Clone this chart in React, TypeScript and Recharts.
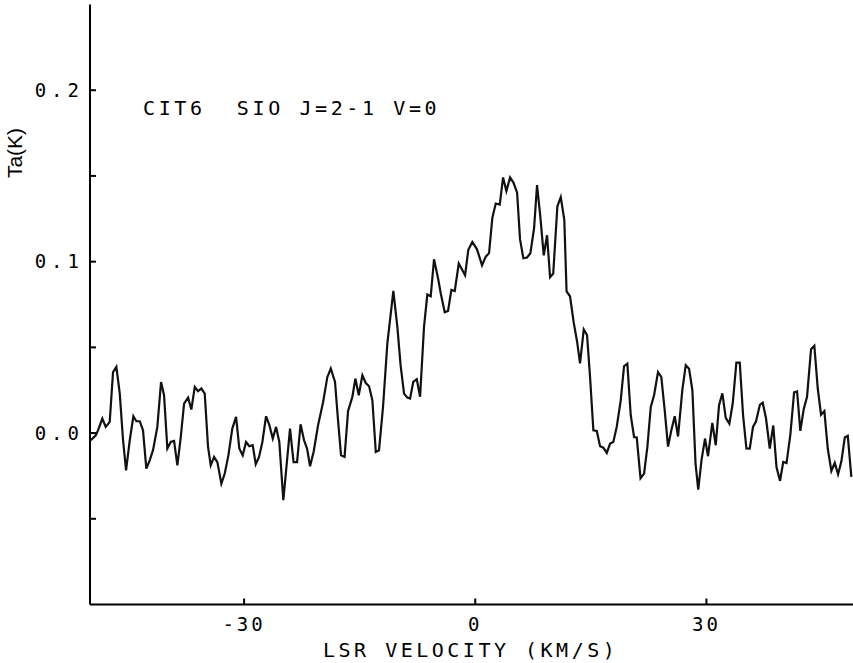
import { LineChart, Line, XAxis, YAxis } from "recharts";

// LSR velocity (km/s) of each vertex of the spectrum trace
const velocity = [
  -49.9, -49.25, -48.96, -48.4, -47.96, -47.44, -47.01, -46.58, -46.14, -45.71,
  -45.32, -44.84, -44.37, -43.98, -43.54, -43.12, -42.69, -42.25, -41.82, -41.26,
  -40.78, -40.39, -39.96, -39.52, -39.09, -38.66, -38.22, -37.79, -37.27, -36.85,
  -36.4, -35.98, -35.55, -35.11, -34.68, -34.33, -33.9, -33.47, -32.95, -32.51,
  -32.04, -31.53, -31.04, -30.62, -30.18, -29.75, -29.32, -28.88, -28.49, -28.06,
  -27.63, -27.15, -26.72, -26.28, -25.85, -25.43, -24.91, -24.04, -23.58, -23.13,
  -22.67, -22.22, -21.83, -21.44, -20.96, -20.4, -19.75, -19.2, -18.75, -18.2,
  -17.81, -17.42, -16.96, -16.51, -15.95, -15.56, -15.12, -14.65, -14.21, -13.78,
  -13.35, -12.91, -12.49, -11.97, -11.41, -10.63, -10.11, -9.69, -9.24, -8.81,
  -8.46, -8.05, -7.59, -7.16, -6.65, -6.22, -5.78, -5.35, -4.83, -4.48,
  -3.96, -3.53, -3.1, -2.66, -2.14, -1.32, -0.9, -0.38, 0.23, 0.88,
  1.36, 1.79, 2.22, 2.66, 3.18, 3.61, 4.04, 4.52, 4.97, 5.43,
  5.81, 6.24, 6.72, 7.15, 7.63, 8.02, 8.44, 8.89, 9.32, 9.71,
  10.12, 10.66, 11.1, 11.56, 11.85, 12.3, 12.78, 13.21, 13.6, 14.08,
  14.51, 14.9, 15.33, 15.77, 16.2, 16.63, 17.07, 17.5, 17.92, 18.36,
  18.88, 19.31, 19.74, 20.18, 20.61, 20.96, 21.45, 21.91, 22.34, 22.78,
  23.21, 23.72, 24.15, 24.59, 25.02, 25.45, 25.89, 26.32, 26.88, 27.32,
  27.75, 28.18, 28.59, 28.94, 29.37, 29.82, 30.21, 30.77, 31.21, 31.64,
  32.07, 32.51, 32.98, 33.42, 33.89, 34.33, 34.76, 35.19, 35.63, 36.05,
  36.44, 36.94, 37.31, 37.74, 38.22, 38.68, 39.1, 39.56, 39.97, 40.4,
  40.9, 41.38, 41.77, 42.19, 42.63, 43.06, 43.58, 44.01, 44.45, 44.88,
  45.31, 45.75, 46.22, 46.66, 47.09, 47.52, 47.96, 48.35, 48.81,
];

// antenna temperature Ta (K) at each vertex
const antennaTemp = [
  -0.0042, -0.0013, 0.0016, 0.0085, 0.0036, 0.0065, 0.0356, 0.0386, 0.0232, -0.0042,
  -0.0217, -0.0042, 0.0098, 0.0069, 0.0069, 0.0016, -0.0207, -0.0159, -0.01, 0.0036,
  0.0298, 0.0221, -0.009, -0.0052, -0.0046, -0.0188, -0.0023, 0.0172, 0.0207, 0.0137,
  0.0269, 0.0244, 0.026, 0.023, -0.0081, -0.0188, -0.0139, -0.0169, -0.0295, -0.0236,
  -0.013, 0.0026, 0.0094, -0.009, -0.013, -0.0052, -0.0077, -0.0071, -0.0182, -0.0139,
  -0.0052, 0.0098, 0.0046, -0.0032, 0.0036, -0.0052, -0.0392, 0.0026, -0.0169, -0.0169,
  0.0051, -0.0042, -0.009, -0.0194, -0.0106, 0.0046, 0.018, 0.0326, 0.0376, 0.0298,
  0.0075, -0.013, -0.0139, 0.0127, 0.0211, 0.0318, 0.0221, 0.0337, 0.0292, 0.0273,
  0.0191, -0.011, -0.01, 0.0152, 0.0522, 0.0829, 0.0619, 0.0396, 0.023, 0.0207,
  0.0201, 0.0298, 0.0314, 0.0212, 0.0619, 0.0808, 0.0798, 0.1014, 0.0903, 0.0816,
  0.0705, 0.0712, 0.0835, 0.0829, 0.0989, 0.0921, 0.1069, 0.1115, 0.1072, 0.0979,
  0.1029, 0.1049, 0.1256, 0.1339, 0.1333, 0.1491, 0.1412, 0.1491, 0.146, 0.1402,
  0.1131, 0.102, 0.1024, 0.1049, 0.1192, 0.1446, 0.1265, 0.1037, 0.1154, 0.0909,
  0.0931, 0.1323, 0.1376, 0.1242, 0.0827, 0.0798, 0.0644, 0.0536, 0.0407, 0.0604,
  0.0571, 0.0327, 0.0016, 0.0012, -0.0077, -0.0085, -0.0116, -0.0061, -0.0052, 0.0036,
  0.0191, 0.039, 0.0405, 0.0104, -0.0023, -0.0026, -0.0264, -0.0236, -0.0081, 0.0152,
  0.0221, 0.0356, 0.0327, 0.0133, -0.0079, 0.0016, 0.0098, -0.002, 0.0254, 0.0396,
  0.0375, 0.025, -0.0178, -0.033, -0.0156, -0.0032, -0.0135, 0.0059, -0.0071, 0.0162,
  0.0232, 0.0089, 0.0055, 0.0174, 0.0411, 0.0411, 0.0104, -0.0089, -0.009, 0.0036,
  0.0069, 0.0165, 0.0177, 0.0085, -0.009, 0.0044, -0.02, -0.0279, -0.0169, -0.0175,
  -0.0007, 0.0238, 0.0243, 0.0013, 0.0139, 0.0211, 0.0489, 0.0509, 0.026, 0.0107,
  0.0128, -0.009, -0.0221, -0.0173, -0.024, -0.0165, -0.0026, -0.0016, -0.0256,
];

const xTicks = [-30, 0, 30];
const yTicks = [-0.05, 0, 0.05, 0.1, 0.15, 0.2];

const spectrum = velocity.map((v, i) => ({ v, ta: antennaTemp[i] }));

const mono = "'DejaVu Sans Mono', monospace";

// only every 0.1 K gets a label, the 0.05 K ticks are bare
const yLabel = (t: number) =>
  Math.abs(t * 10 - Math.round(t * 10)) < 1e-6 ? t.toFixed(1) : "";

export default function App() {
  return (
    <div
      style={{
        position: "fixed",
        left: 0,
        top: 0,
        width: 853,
        height: 663,
        overflow: "hidden",
        background: "#fff",
      }}
    >
      <LineChart
        width={900}
        height={663}
        data={spectrum}
        margin={{ top: 4.5, right: 39.5, left: 30, bottom: 28.5 }}
      >
        <XAxis
          xAxisId="top"
          orientation="top"
          type="number"
          dataKey="v"
          domain={[-50, 50]}
          ticks={xTicks}
          height={0}
          tickSize={-6}
          tickFormatter={() => ""}
          axisLine={{ stroke: "#000", strokeWidth: 2 }}
          tickLine={{ stroke: "#000", strokeWidth: 2 }}
          allowDataOverflow
        />
        <XAxis
          type="number"
          dataKey="v"
          domain={[-50, 50]}
          ticks={xTicks}
          tickSize={-6}
          tickMargin={19}
          axisLine={{ stroke: "#000", strokeWidth: 2 }}
          tickLine={{ stroke: "#000", strokeWidth: 2 }}
          tick={{ fill: "#000", fontSize: 19, fontFamily: mono, letterSpacing: 3 }}
          allowDataOverflow
        />
        <YAxis
          type="number"
          domain={[-0.1, 0.25]}
          ticks={yTicks}
          tickSize={-6}
          tickMargin={12}
          tickFormatter={yLabel}
          axisLine={{ stroke: "#000", strokeWidth: 2 }}
          tickLine={{ stroke: "#000", strokeWidth: 2 }}
          tick={{ fill: "#000", fontSize: 19, fontFamily: mono, letterSpacing: 5 }}
          allowDataOverflow
        />
        <Line
          type="linear"
          dataKey="ta"
          stroke="#111"
          strokeWidth={2.2}
          dot={false}
          isAnimationActive={false}
        />
      </LineChart>

      <svg
        width={853}
        height={663}
        style={{ position: "absolute", left: 0, top: 0, pointerEvents: "none" }}
      >
        <text
          x={143}
          y={115}
          fontFamily={mono}
          fontSize={20}
          letterSpacing={3.6}
          fill="#000"
          style={{ whiteSpace: "pre" }}
        >
          CIT6  SIO J=2-1 V=0
        </text>
        <text
          x={21.7}
          y={153}
          fontFamily="'Liberation Sans', Arial, sans-serif"
          fontSize={21}
          textAnchor="middle"
          fill="#000"
          transform="rotate(-90, 21.7, 153)"
        >
          Ta(K)
        </text>
        <text
          x={323}
          y={656.5}
          fontFamily={mono}
          fontSize={20}
          letterSpacing={3.5}
          fill="#000"
          style={{ whiteSpace: "pre" }}
        >
          LSR VELOCITY (KM/S)
        </text>
      </svg>
    </div>
  );
}
